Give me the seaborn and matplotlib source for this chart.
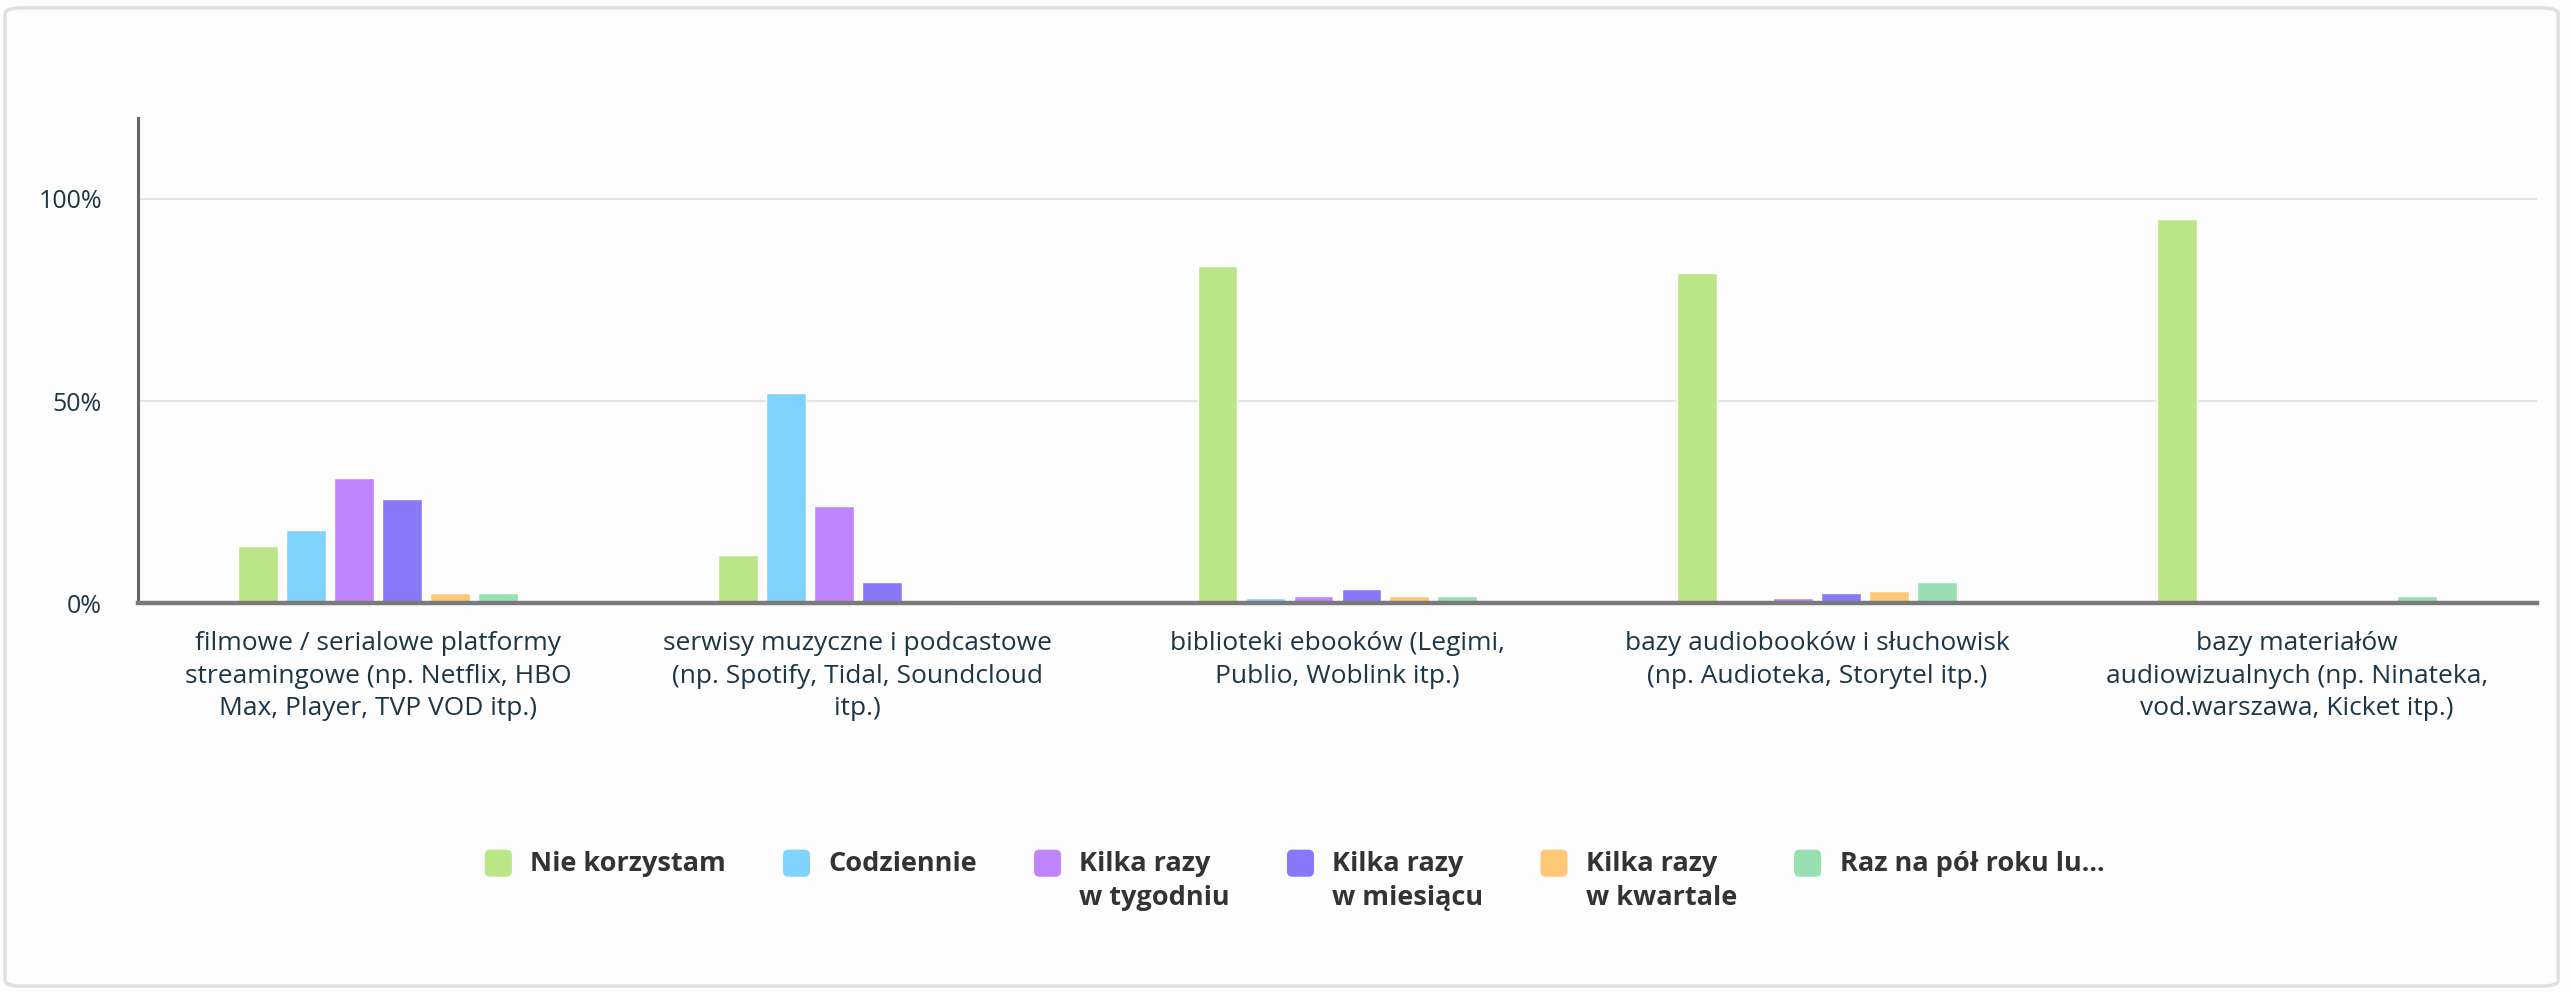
import numpy as np
import pandas as pd
import matplotlib.pyplot as plt
import seaborn as sns
from matplotlib.patches import FancyBboxPatch, Patch
from matplotlib.legend_handler import HandlerPatch

# Categories (x axis)
categories = [
    'filmowe / serialowe platformy\nstreamingowe (np. Netflix, HBO\nMax, Player, TVP VOD itp.)',
    'serwisy muzyczne i podcastowe\n(np. Spotify, Tidal, Soundcloud\nitp.)',
    'biblioteki ebooków (Legimi,\nPublio, Woblink itp.)',
    'bazy audiobooków i słuchowisk\n(np. Audioteka, Storytel itp.)',
    'bazy materiałów\naudiowizualnych (np. Ninateka,\nvod.warszawa, Kicket itp.)',
]

# Series names (legend)
series = [
    'Nie korzystam',
    'Codziennie',
    'Kilka razy\nw tygodniu',
    'Kilka razy\nw miesiącu',
    'Kilka razy\nw kwartale',
    'Raz na pół roku lu...',
]

# Values in percent
nie_korzystam = [14.1, 11.8, 83.4, 81.7, 95.1]
codziennie = [18.2, 52.0, 1.3, 0.0, 0.0]
w_tygodniu = [30.9, 24.0, 1.8, 1.3, 0.0]
w_miesiacu = [25.7, 5.3, 3.6, 2.5, 0.0]
w_kwartale = [2.5, 0.0, 1.8, 3.0, 0.0]
pol_roku = [2.5, 0.8, 1.8, 5.3, 1.8]

colors = ['#bbe688', '#7fd3fc', '#c084fc', '#8779fa', '#fec877', '#98e0b1']

yticks = [0, 50, 100]
ytick_labels = ['0%', '50%', '100%']

values = [nie_korzystam, codziennie, w_tygodniu, w_miesiacu, w_kwartale, pol_roku]
rows = []
for s, vals in zip(series, values):
    for c, v in zip(categories, vals):
        rows.append({'kategoria': c, 'seria': s, 'procent': v})
df = pd.DataFrame(rows)

sns.set_style('white')
plt.rcParams['font.family'] = ['Open Sans', 'DejaVu Sans']

text_color = '#1c3647'
bg = '#fdfdfd'

fig = plt.figure(figsize=(25.71, 9.92), dpi=100, facecolor=bg)
ax = fig.add_axes([0.0537, 0.392, 0.933, 0.489])
ax.set_facecolor(bg)

sns.barplot(data=df, x='kategoria', y='procent', hue='seria',
            order=categories, hue_order=series, palette=colors,
            width=0.6, gap=0.17, saturation=1, legend=False, ax=ax)

ax.set_ylim(0, 120)
ax.set_xlim(-0.5, len(categories) - 0.5)
ax.set_yticks(yticks)
ax.set_yticklabels(ytick_labels, fontsize=18, color=text_color)
ax.set_xticks(range(len(categories)))
ax.set_xticklabels(categories, fontsize=19, color=text_color, linespacing=1.4)
ax.tick_params(axis='both', length=0)
ax.tick_params(axis='y', pad=26)
ax.tick_params(axis='x', pad=20)
ax.set_xlabel('')
ax.set_ylabel('')

ax.yaxis.grid(True, color='#e4e4e4', linewidth=1.6)
ax.set_axisbelow(True)
for side in ['top', 'right']:
    ax.spines[side].set_visible(False)
ax.spines['left'].set_color('#666666')
ax.spines['left'].set_linewidth(2.2)
ax.spines['bottom'].set_color('#7a7a7a')
ax.spines['bottom'].set_linewidth(3.2)

leg_size = 19.5


# rounded square legend swatches, lined up with the first text row
def rounded_swatch(legend, orig_handle, xdescent, ydescent, width, height, fontsize):
    side = fontsize * 1.0
    y0 = -ydescent + height / 2 - side / 2 + fontsize * 0.68
    return FancyBboxPatch((-xdescent + (width - side) / 2, y0), side, side,
                          boxstyle='round,pad=0,rounding_size=4')


# every label gets two rows so all entries share the same top line
leg_labels = [s if '\n' in s else s + '\n ' for s in series]
handles = [Patch(facecolor=c, edgecolor='none') for c in colors]
leg = fig.legend(handles, leg_labels, loc='center', bbox_to_anchor=(0.5035, 0.112),
                 ncol=6, frameon=False, columnspacing=2.1, handlelength=1.0,
                 handleheight=1.0, handletextpad=0.68,
                 handler_map={Patch: HandlerPatch(patch_func=rounded_swatch)},
                 prop={'family': 'Open Sans', 'weight': 'bold', 'size': leg_size})
for t in leg.get_texts():
    t.set_color('#333333')
    t.set_linespacing(1.4)

# card border
fig.patches.append(FancyBboxPatch((0.002, 0.006), 0.993, 0.986,
                                  boxstyle='round,pad=0,rounding_size=0.006',
                                  transform=fig.transFigure, facecolor='none',
                                  edgecolor='#e0e0e0', linewidth=2.5))

fig.savefig('out.png', dpi=100, facecolor=bg)
